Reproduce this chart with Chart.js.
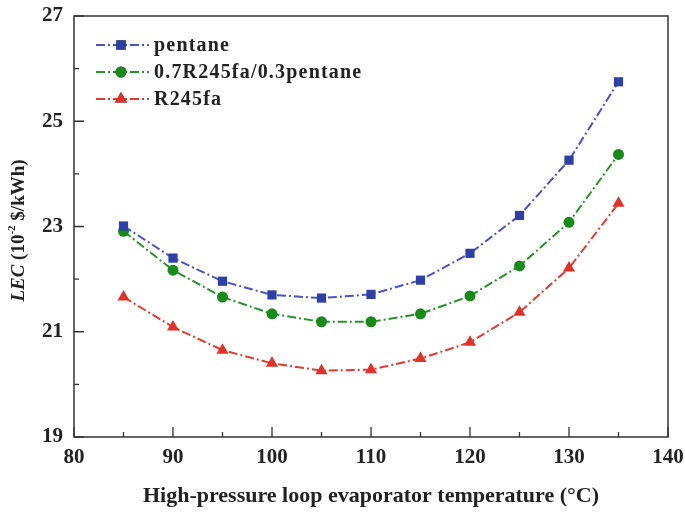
<!DOCTYPE html>
<html>
<head>
<meta charset="utf-8">
<script src="https://cdn.jsdelivr.net/npm/chart.js@4"></script>
<style>
  html, body { margin: 0; padding: 0; background: #fff; }
  #wrap { width: 685px; height: 515px; position: relative; }
</style>
</head>
<body>
<div id="wrap"><canvas id="lecChart" width="685" height="515"></canvas></div>
<script>
/* Data */
const temps = [85, 90, 95, 100, 105, 110, 115, 120, 125, 130, 135];
const pentane = [23.01, 22.40, 21.96, 21.70, 21.64, 21.71, 21.98, 22.49, 23.21, 24.26, 25.75];
const mix = [22.91, 22.17, 21.66, 21.34, 21.19, 21.19, 21.34, 21.68, 22.25, 23.08, 24.37];
const r245fa = [21.66, 21.09, 20.65, 20.40, 20.26, 20.28, 20.49, 20.80, 21.37, 22.21, 23.44];
const seriesNames = ['pentane', '0.7R245fa/0.3pentane', 'R245fa'];

const X_MIN = 80, X_MAX = 140, Y_MIN = 19, Y_MAX = 27;
const SERIF = '"Liberation Serif", "Times New Roman", serif';
const DASH = [9, 3, 2, 3];

function toPoints(xs, ys) {
    return xs.map((x, i) => ({x: x, y: ys[i]}));
}

const data = {
    datasets: [{
        label: seriesNames[0],
        data: toPoints(temps, pentane),
        borderColor: '#4a52c4',
        backgroundColor: '#2e3fa6',
        pointStyle: 'rect',
        pointRadius: 6.5,
    }, {
        label: seriesNames[1],
        data: toPoints(temps, mix),
        borderColor: '#27922a',
        backgroundColor: '#178a1a',
        pointStyle: 'circle',
        pointRadius: 5.5,
    }, {
        label: seriesNames[2],
        data: toPoints(temps, r245fa),
        borderColor: '#e5392f',
        backgroundColor: '#e2302a',
        pointStyle: 'triangle',
        pointRadius: 7,
    }]
};
data.datasets.forEach((ds) => {
    ds.borderWidth = 2;
    ds.borderDash = DASH;
    ds.tension = 0;
    ds.pointBorderWidth = 0;
    ds.pointBorderColor = ds.backgroundColor;
    ds.pointBackgroundColor = ds.backgroundColor;
});

/* Frame, inward ticks, legend and y title */
const decor = {
    id: 'decor',
    afterDraw(chart) {
        const ctx = chart.ctx;
        const a = chart.chartArea;
        const xs = chart.scales.x, ys = chart.scales.y;
        ctx.save();
        ctx.strokeStyle = '#333';
        ctx.lineWidth = 1.5;
        ctx.setLineDash([]);
        ctx.strokeRect(a.left, a.top, a.right - a.left, a.bottom - a.top);

        ctx.lineWidth = 1.3;
        ctx.beginPath();
        xs.ticks.forEach((t) => {
            const px = xs.getPixelForValue(t.value);
            const len = t.value % 10 === 0 ? 10 : 5;
            ctx.moveTo(px, a.bottom);
            ctx.lineTo(px, a.bottom - len);
        });
        ys.ticks.forEach((t) => {
            const py = ys.getPixelForValue(t.value);
            const len = t.value % 2 === 1 ? 10 : 5;
            ctx.moveTo(a.left, py);
            ctx.lineTo(a.left + len, py);
        });
        ctx.stroke();

        /* legend inside the plot */
        const rows = [45, 72, 99];
        chart.data.datasets.forEach((ds, i) => {
            const y = rows[i];
            ctx.strokeStyle = ds.borderColor;
            ctx.lineWidth = 2;
            ctx.setLineDash(DASH);
            ctx.beginPath();
            ctx.moveTo(96, y);
            ctx.lineTo(149, y);
            ctx.stroke();
            ctx.setLineDash([]);
            Chart.helpers.drawPoint(ctx, {
                pointStyle: ds.pointStyle,
                radius: ds.pointRadius,
                borderWidth: 0,
                rotation: 0
            }, 121, y);
            ctx.fillStyle = ds.backgroundColor;
            ctx.fill();
            ctx.fillStyle = '#222';
            ctx.font = 'bold 20px ' + SERIF;
            ctx.textBaseline = 'middle';
            ctx.textAlign = 'left';
            ctx.letterSpacing = '1.2px';
            ctx.fillText(ds.label, 154, y + 1);
            ctx.letterSpacing = '0px';
        });

        /* y axis title: LEC (10^-2 $/kWh) */
        ctx.translate(19, (a.top + a.bottom) / 2 + 4);
        ctx.rotate(-Math.PI / 2);
        ctx.fillStyle = '#222';
        ctx.textBaseline = 'middle';
        ctx.textAlign = 'left';
        const parts = [
            {t: 'LEC', f: 'italic bold 19px ', dy: 0},
            {t: ' (10', f: 'bold 19px ', dy: 0},
            {t: '-2', f: 'bold 11px ', dy: -7},
            {t: ' $/kWh)', f: 'bold 19px ', dy: 0}
        ];
        let w = 0;
        parts.forEach((p) => { ctx.font = p.f + SERIF; w += ctx.measureText(p.t).width; });
        let x = -w / 2;
        parts.forEach((p) => {
            ctx.font = p.f + SERIF;
            ctx.fillText(p.t, x, p.dy);
            x += ctx.measureText(p.t).width;
        });
        ctx.restore();
    }
};

const config = {
    type: 'line',
    data,
    options: {
        responsive: false,
        animation: false,
        layout: {padding: {left: 0, top: 16, right: 17, bottom: 0}},
        plugins: {
            legend: {display: false},
            tooltip: {enabled: false}
        },
        scales: {
            x: {
                type: 'linear',
                min: X_MIN,
                max: X_MAX,
                border: {display: false},
                grid: {display: false, drawTicks: false},
                ticks: {
                    stepSize: 5,
                    autoSkip: false,
                    maxRotation: 0,
                    padding: 8,
                    color: '#222',
                    font: {family: SERIF, size: 21, weight: 'bold'},
                    callback: (v) => (v % 10 === 0 ? String(v) : '')
                },
                title: {
                    display: true,
                    text: 'High-pressure loop evaporator temperature (\u00B0C)',
                    color: '#222',
                    font: {family: SERIF, size: 22, weight: 'bold'},
                    padding: {top: 0, bottom: 5}
                },
                afterFit: (scale) => {
                    scale.height = 78;
                    scale.paddingLeft = 0;
                    scale.paddingRight = 0;
                }
            },
            y: {
                min: Y_MIN,
                max: Y_MAX,
                border: {display: false},
                grid: {display: false, drawTicks: false},
                ticks: {
                    stepSize: 1,
                    autoSkip: false,
                    padding: 11,
                    color: '#222',
                    font: {family: SERIF, size: 21, weight: 'bold'},
                    callback: (v) => (v % 2 === 1 ? String(v) : '')
                },
                afterFit: (scale) => {
                    scale.width = 74;
                    scale.paddingTop = 0;
                    scale.paddingBottom = 0;
                }
            }
        }
    },
    plugins: [decor]
};

const lecChart = new Chart(document.getElementById('lecChart'), config);
</script>
</body>
</html>
